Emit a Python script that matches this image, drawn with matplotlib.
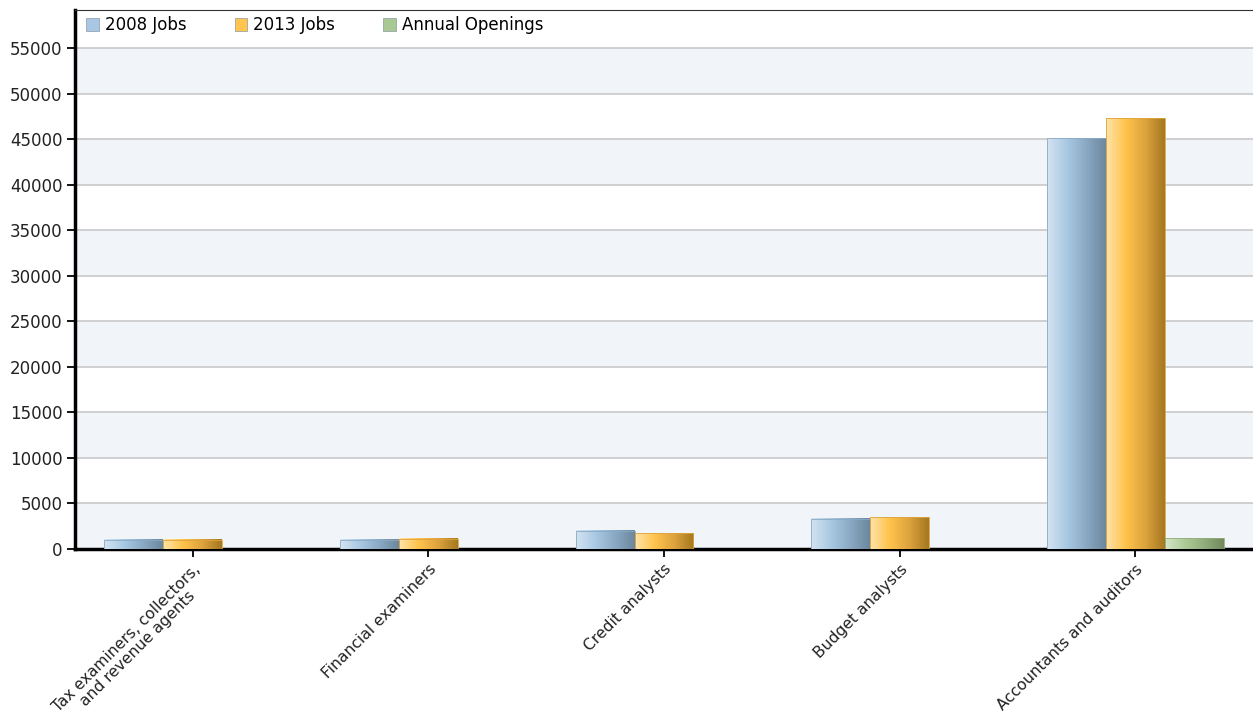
import numpy as np
import matplotlib.pyplot as plt
from matplotlib.colors import LinearSegmentedColormap

plt.rcParams['font.family'] = ['DejaVu Sans']

categories = ['Tax examiners, collectors,\nand revenue agents', 'Financial examiners',
              'Credit analysts', 'Budget analysts', 'Accountants and auditors']
jobs_2008 = [1000, 1000, 2000, 3300, 45100]
jobs_2013 = [1000, 1150, 1750, 3500, 47300]
openings = [0, 0, 0, 0, 1200]
series_names = ['2008 Jobs', '2013 Jobs', 'Annual Openings']
yticks = list(range(0, 55001, 5000))

legend_colors = ['#a9c6e2', '#ffc54f', '#a9c994']
gradients = [
    ['#d3e3f1', '#a9c9e3', '#8aa9c4', '#6d889f'],
    ['#ffe3a8', '#ffc34c', '#dda33d', '#a57822'],
    ['#d5e6c7', '#aecb97', '#92ad7c', '#72895f'],
]


def gradient_bar(ax, x0, width, height, cols):
    if height <= 0:
        return
    cmap = LinearSegmentedColormap.from_list('g', cols)
    grad = np.linspace(0, 1, 64).reshape(1, -1)
    ax.imshow(grad, extent=[x0, x0 + width, 0, height], aspect='auto',
              cmap=cmap, zorder=3, interpolation='bilinear')
    ax.add_patch(plt.Rectangle((x0, 0), width, height, fill=False,
                               edgecolor=cols[2], linewidth=0.6, zorder=4))


def main():
    fig = plt.figure(figsize=(12.53, 7.26), dpi=100)
    ax = fig.add_axes([75 / 1253, 177 / 726, 1178 / 1253, 539 / 726])

    ymax = 59200
    n = len(categories)
    x = np.arange(n)
    bw = 0.25

    # alternating bands
    for k, y0 in enumerate(range(0, 60000, 5000)):
        if k % 2 == 0:
            ax.axhspan(y0, min(y0 + 5000, ymax), color='#f1f5fa', zorder=0, lw=0)
    for y in yticks[1:]:
        ax.axhline(y, color='#c8c8c8', lw=1.2, zorder=1)

    for s, vals in enumerate([jobs_2008, jobs_2013, openings]):
        for i, v in enumerate(vals):
            gradient_bar(ax, x[i] - 1.5 * bw + s * bw, bw, v, gradients[s])

    ax.set_xlim(-0.5, n - 0.5)
    ax.set_ylim(0, ymax)
    ax.set_yticks(yticks)
    ax.set_yticklabels([str(t) for t in yticks], fontsize=12, color='#222222')
    ax.set_xticks(x)
    ax.set_xticklabels(categories, rotation=45, ha='right', va='top',
                       rotation_mode='anchor', fontsize=11.2, color='#222222',
                       multialignment='center', linespacing=1.0)
    ax.tick_params(axis='y', length=6, width=1.3, pad=3)
    ax.tick_params(axis='x', length=6, width=1.3, pad=3)

    ax.spines['left'].set_linewidth(2.5)
    ax.spines['bottom'].set_linewidth(2.5)
    ax.spines['top'].set_linewidth(0.8)
    ax.spines['top'].set_color('#333333')
    ax.spines['right'].set_visible(False)

    handles = [plt.Rectangle((0, 0), 1, 1, facecolor=c, edgecolor='#8a9aa8', lw=0.5)
               for c in legend_colors]
    ax.legend(handles, series_names, loc='upper left', ncol=3, frameon=False,
              fontsize=12, bbox_to_anchor=(-0.003, 1.016), handlelength=0.75,
              handleheight=0.75, handletextpad=0.35, columnspacing=2.9)

    fig.savefig('out.png', dpi=100)


if __name__ == '__main__':
    main()
